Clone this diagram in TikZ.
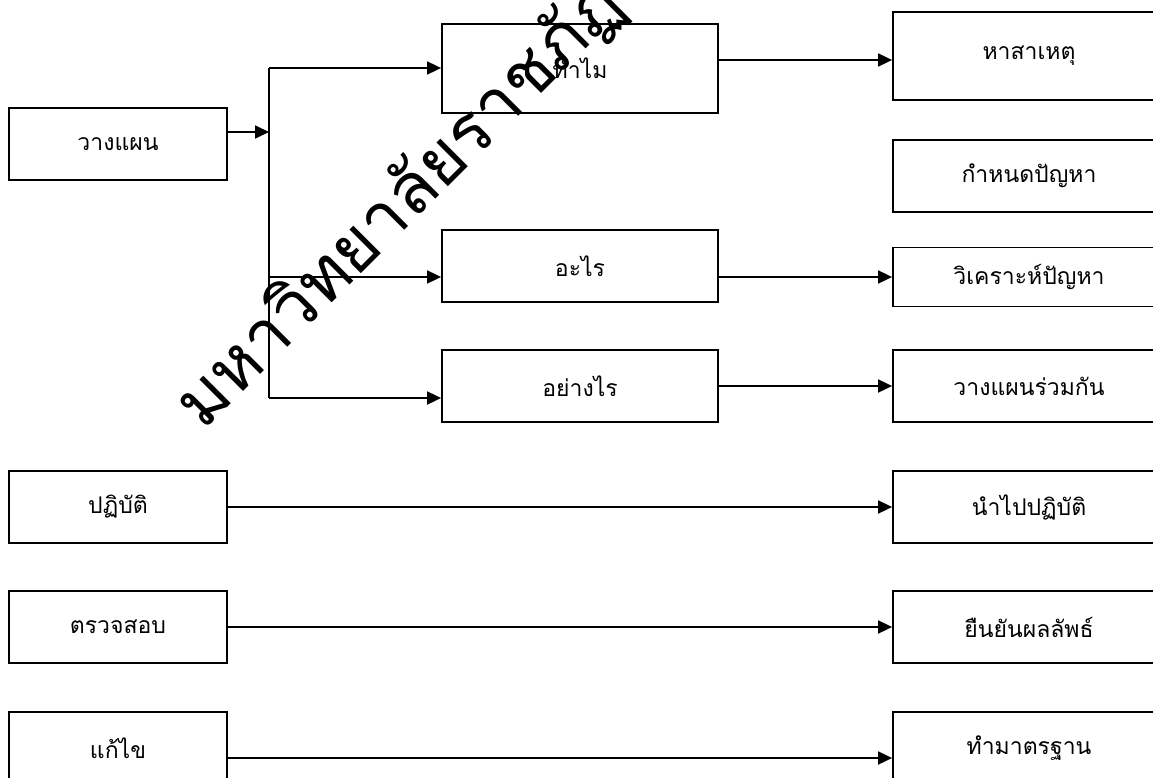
\documentclass[tikz,border=0pt]{standalone}
\usepackage{fontspec}
\usepackage{tikz}
\usetikzlibrary{arrows.meta,calc}
\newfontfamily\thaifont[Script=Thai]{Loma}
\definecolor{pdcaBlack}{RGB}{0,0,0}
\tikzset{
  stagebox/.style={draw=pdcaBlack, line width=1.8pt, inner sep=0pt,
    minimum width=218pt, minimum height=72pt,
    font=\thaifont\fontsize{23}{27}\selectfont},
  askbox/.style={stagebox, minimum width=276pt},
  resultbox/.style={stagebox, minimum width=272pt},
  flow/.style={draw=pdcaBlack, line width=1.8pt, -{Triangle[length=14pt,width=13pt]}}
}
\begin{document}
\begin{tikzpicture}[x=1pt,y=-1pt]
\useasboundingbox (0,0) rectangle (1153,778);
\clip (0,0) rectangle (1153,778);
\node[stagebox] (plan) at (118,144) {วางแผน};
\node[stagebox] (do) at (118,507) {ปฏิบัติ};
\node[stagebox] (check) at (118,627) {ตรวจสอบ};
\node[stagebox] (fix) at (118,748) {แก้ไข};
\node[askbox, minimum height=89pt] (why) at (580,68.5) {ทำไม};
\node[askbox] (what) at (580,266) {อะไร};
\node[askbox] (how) at (580,386) {อย่างไร};
\node[resultbox, minimum height=88pt] (cause) at (1029,56) {หาสาเหตุ};
\node[resultbox] (define) at (1029,176) {กำหนดปัญหา};
\node[resultbox, minimum height=59pt] (analyze) at (1029,277) {วิเคราะห์ปัญหา};
\node[resultbox] (jointplan) at (1029,386) {วางแผนร่วมกัน};
\node[resultbox] (apply) at (1029,507) {นำไปปฏิบัติ};
\node[resultbox] (confirm) at (1029,627) {ยืนยันผลลัพธ์};
\node[resultbox] (standard) at (1029,748) {ทำมาตรฐาน};
\coordinate (trunkTop) at (269,68);
\coordinate (trunkMid) at (269,277);
\coordinate (trunkBot) at (269,398);
\coordinate (planIn) at (269,132);
\draw[line width=1.8pt] (trunkTop) -- (trunkBot);
\draw[flow] (plan.east |- planIn) -- (planIn);
\draw[flow] (trunkTop) -- (trunkTop -| why.west);
\draw[flow] (trunkMid) -- (trunkMid -| what.west);
\draw[flow] (trunkBot) -- (trunkBot -| how.west);
\draw[flow] (why.east |- {$(cause.west)+(0,4)$}) -- ($(cause.west)+(0,4)$);
\draw[flow] (what.east |- analyze.west) -- (analyze.west);
\draw[flow] (how) -- (jointplan);
\draw[flow] (do) -- (apply);
\draw[flow] (check) -- (confirm);
\draw[flow] ([yshift=-10pt]fix.east) -- ([yshift=-10pt]standard.west);
\node[font=\thaifont\fontsize{70}{78}\selectfont, rotate=45, anchor=base west,
  inner sep=0pt] (mark) at (203,432) {มหาวิทยาลัยราชภัฏ};
\end{tikzpicture}
\end{document}
